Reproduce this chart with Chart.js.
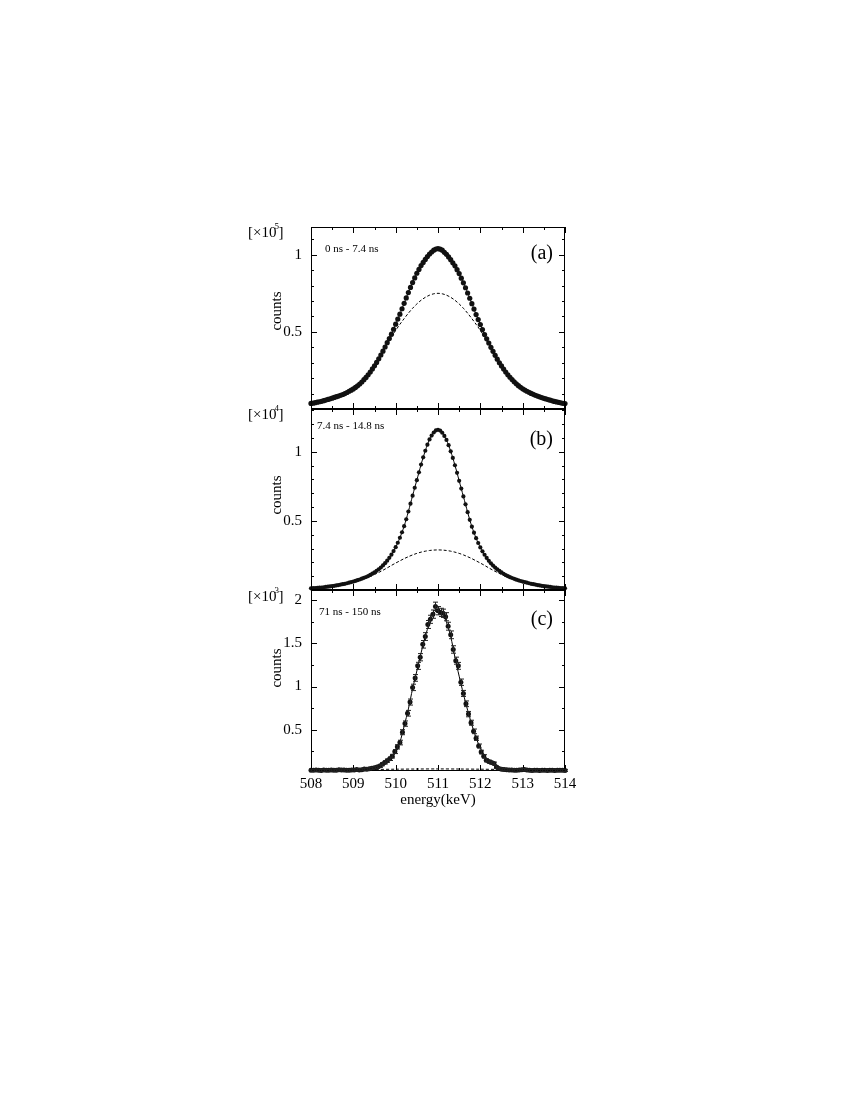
<!DOCTYPE html>
<html>
<head>
<meta charset="utf-8">
<script src="https://cdn.jsdelivr.net/npm/chart.js@4/dist/chart.umd.min.js"></script>
<style>
html,body{margin:0;padding:0;background:#fff;}
#wrap{position:relative;width:850px;height:1100px;overflow:hidden;}
#wrap canvas{position:absolute;left:0;top:0;}
</style>
</head>
<body>
<div id="wrap">
<canvas id="ca" width="850" height="1100"></canvas>
<canvas id="cb" width="850" height="1100"></canvas>
<canvas id="cc" width="850" height="1100"></canvas>
</div>
<script>
// ---------- DATA ----------
// energy grid (keV) of panels (a) and (b)
const energies05 = [
508.00,508.05,508.10,508.15,508.20,508.25,508.30,508.35,508.40,508.45,
508.50,508.55,508.60,508.65,508.70,508.75,508.80,508.85,508.90,508.95,
509.00,509.05,509.10,509.15,509.20,509.25,509.30,509.35,509.40,509.45,
509.50,509.55,509.60,509.65,509.70,509.75,509.80,509.85,509.90,509.95,
510.00,510.05,510.10,510.15,510.20,510.25,510.30,510.35,510.40,510.45,
510.50,510.55,510.60,510.65,510.70,510.75,510.80,510.85,510.90,510.95,
511.00,
511.05,511.10,511.15,511.20,511.25,511.30,511.35,511.40,511.45,511.50,
511.55,511.60,511.65,511.70,511.75,511.80,511.85,511.90,511.95,512.00,
512.05,512.10,512.15,512.20,512.25,512.30,512.35,512.40,512.45,512.50,
512.55,512.60,512.65,512.70,512.75,512.80,512.85,512.90,512.95,513.00,
513.05,513.10,513.15,513.20,513.25,513.30,513.35,513.40,513.45,513.50,
513.55,513.60,513.65,513.70,513.75,513.80,513.85,513.90,513.95,514.00
];
// panel (a) counts [x10^5], 0 ns - 7.4 ns
const countsA = [
0.036,0.038,0.041,0.044,0.047,0.050,0.054,0.058,0.062,0.066,
0.070,0.075,0.080,0.084,0.089,0.094,0.100,0.107,0.115,0.122,
0.130,0.140,0.150,0.162,0.175,0.190,0.205,0.222,0.240,0.260,
0.280,0.302,0.325,0.350,0.375,0.402,0.430,0.457,0.485,0.517,
0.550,0.583,0.615,0.650,0.685,0.720,0.755,0.788,0.820,0.850,
0.880,0.905,0.930,0.950,0.970,0.988,1.005,1.018,1.030,1.037,
1.040,
1.036,1.030,1.016,1.003,0.986,0.968,0.948,0.928,0.903,0.878,
0.848,0.818,0.786,0.752,0.718,0.683,0.648,0.612,0.580,0.548,
0.515,0.483,0.455,0.428,0.400,0.374,0.348,0.323,0.300,0.279,
0.259,0.240,0.222,0.206,0.191,0.176,0.163,0.151,0.141,0.131,
0.123,0.115,0.108,0.101,0.095,0.089,0.084,0.079,0.074,0.069,
0.065,0.061,0.057,0.053,0.049,0.046,0.043,0.040,0.037,0.035
];
// panel (b) counts [x10^4], 7.4 ns - 14.8 ns
const countsB = [
0.012,0.013,0.014,0.015,0.017,0.018,0.020,0.022,0.024,0.026,
0.028,0.030,0.033,0.036,0.039,0.042,0.045,0.049,0.053,0.057,
0.061,0.066,0.071,0.076,0.082,0.088,0.094,0.101,0.109,0.118,
0.128,0.139,0.150,0.163,0.178,0.194,0.212,0.233,0.256,0.282,
0.310,0.342,0.378,0.418,0.462,0.512,0.568,0.625,0.683,0.740,
0.795,0.852,0.908,0.960,1.008,1.052,1.090,1.118,1.140,1.155,
1.160,
1.154,1.138,1.115,1.086,1.048,1.004,0.956,0.903,0.848,0.790,
0.734,0.677,0.620,0.563,0.508,0.458,0.415,0.375,0.340,0.308,
0.280,0.255,0.232,0.211,0.193,0.177,0.162,0.149,0.138,0.127,
0.117,0.108,0.100,0.093,0.087,0.081,0.075,0.070,0.065,0.061,
0.057,0.053,0.049,0.045,0.042,0.039,0.036,0.033,0.030,0.028,
0.026,0.024,0.022,0.020,0.018,0.017,0.015,0.014,0.013,0.012
];
// 0.1 keV grid used by the dashed components and the panel (c) fit
const energyFine = [
508.0,508.1,508.2,508.3,508.4,508.5,508.6,508.7,508.8,508.9,
509.0,509.1,509.2,509.3,509.4,509.5,509.6,509.7,509.8,509.9,
510.0,510.1,510.2,510.3,510.4,510.5,510.6,510.7,510.8,510.9,
511.0,
511.1,511.2,511.3,511.4,511.5,511.6,511.7,511.8,511.9,512.0,
512.1,512.2,512.3,512.4,512.5,512.6,512.7,512.8,512.9,513.0,
513.1,513.2,513.3,513.4,513.5,513.6,513.7,513.8,513.9,514.0
];
// panel (a) broad component (dashed)
const dashedA = [
0.035,0.040,0.046,0.053,0.061,0.069,0.079,0.088,0.099,0.114,
0.129,0.149,0.174,0.204,0.237,0.276,0.320,0.368,0.418,0.466,
0.510,0.549,0.586,0.621,0.653,0.681,0.705,0.724,0.738,0.747,
0.750,
0.747,0.738,0.724,0.705,0.681,0.653,0.621,0.586,0.549,0.510,
0.466,0.418,0.368,0.320,0.276,0.237,0.204,0.174,0.149,0.129,
0.114,0.099,0.088,0.079,0.069,0.061,0.053,0.046,0.040,0.035
];
// panel (b) broad component (dashed)
const dashedB = [
0.011,0.013,0.016,0.019,0.023,0.027,0.032,0.037,0.043,0.050,
0.058,0.066,0.075,0.086,0.098,0.112,0.127,0.143,0.160,0.178,
0.195,0.211,0.227,0.241,0.254,0.265,0.274,0.281,0.286,0.289,
0.290,
0.289,0.286,0.281,0.274,0.265,0.254,0.241,0.227,0.211,0.195,
0.178,0.160,0.143,0.127,0.112,0.098,0.086,0.075,0.066,0.058,
0.050,0.043,0.037,0.032,0.027,0.023,0.019,0.016,0.013,0.011
];
// panel (c) energies (keV)
const energiesC = [
508.00,508.06,508.12,508.18,508.24,508.30,508.36,508.42,508.48,508.54,
508.60,508.66,508.72,508.78,508.84,508.90,508.96,509.02,509.08,509.14,
509.20,509.26,509.32,509.38,509.44,509.50,509.56,509.62,509.68,509.74,
509.80,509.86,509.92,509.98,510.04,510.10,510.16,510.22,510.28,510.34,
510.40,510.46,510.52,510.58,510.64,510.70,510.76,510.82,510.88,510.94,
511.00,511.06,511.12,511.18,511.24,511.30,511.36,511.42,511.48,511.54,
511.60,511.66,511.72,511.78,511.84,511.90,511.96,512.02,512.08,512.14,
512.20,512.26,512.32,512.38,512.44,512.50,512.56,512.62,512.68,512.74,
512.80,512.86,512.92,512.98,513.04,513.10,513.16,513.22,513.28,513.34,
513.40,513.46,513.52,513.58,513.64,513.70,513.76,513.82,513.88,513.94,
514.00
];
// panel (c) counts [x10^3], 71 ns - 150 ns
const countsC = [
0.030,0.028,0.032,0.029,0.027,0.031,0.030,0.028,0.033,0.030,
0.029,0.034,0.031,0.032,0.028,0.030,0.033,0.031,0.036,0.033,
0.035,0.042,0.040,0.046,0.052,0.058,0.065,0.078,0.098,0.120,
0.140,0.162,0.192,0.245,0.300,0.350,0.470,0.570,0.690,0.820,
0.990,1.100,1.240,1.340,1.490,1.580,1.720,1.780,1.840,1.930,
1.880,1.860,1.850,1.810,1.700,1.600,1.430,1.300,1.240,1.050,
0.920,0.800,0.680,0.580,0.480,0.400,0.310,0.240,0.190,0.145,
0.130,0.118,0.108,0.065,0.048,0.040,0.036,0.034,0.031,0.033,
0.030,0.029,0.031,0.035,0.038,0.031,0.028,0.027,0.030,0.029,
0.026,0.028,0.030,0.027,0.029,0.028,0.027,0.030,0.028,0.029,
0.027
];
// panel (c) statistical errors [x10^3]
const errorsC = [
0.012,0.012,0.012,0.012,0.012,0.012,0.012,0.012,0.012,0.012,
0.012,0.012,0.012,0.012,0.012,0.012,0.012,0.012,0.012,0.012,
0.012,0.013,0.013,0.014,0.014,0.015,0.015,0.016,0.017,0.018,
0.019,0.020,0.021,0.023,0.025,0.027,0.029,0.031,0.033,0.035,
0.037,0.039,0.041,0.042,0.044,0.045,0.046,0.047,0.048,0.049,
0.048,0.048,0.048,0.047,0.046,0.045,0.043,0.041,0.040,0.037,
0.035,0.033,0.031,0.029,0.027,0.025,0.023,0.021,0.019,0.017,
0.016,0.015,0.015,0.014,0.013,0.013,0.012,0.012,0.012,0.012,
0.012,0.012,0.012,0.012,0.012,0.012,0.012,0.012,0.012,0.012,
0.012,0.012,0.012,0.012,0.012,0.012,0.012,0.012,0.012,0.012,
0.012
];
// panel (c) total fit (solid)
const fitC = [
0.030,0.030,0.030,0.030,0.030,0.030,0.030,0.030,0.030,0.030,
0.030,0.030,0.030,0.034,0.040,0.048,0.062,0.085,0.118,0.168,
0.245,0.355,0.540,0.740,0.975,1.180,1.390,1.580,1.740,1.850,
1.885,
1.845,1.745,1.580,1.340,1.120,0.915,0.725,0.555,0.405,0.285,
0.195,0.135,0.095,0.068,0.052,0.042,0.037,0.034,0.032,0.030,
0.030,0.030,0.030,0.030,0.030,0.030,0.030,0.030,0.030,0.030
];
// panel (c) broad component (dashed)
const energyHalf = [508.0,508.5,509.0,509.5,510.0,510.5,511.0,511.5,512.0,512.5,513.0,513.5,514.0];
const dashedC = [0.030,0.032,0.035,0.038,0.041,0.043,0.044,0.043,0.041,0.038,0.035,0.032,0.030];

// tick labels
const xTickValues = [508,509,510,511,512,513,514];
const yLabelsA = [0.5, 1];
const yLabelsB = [0.5, 1];
const yLabelsC = [0.5, 1, 1.5, 2];
const timeLabels = ['0 ns - 7.4 ns', '7.4 ns - 14.8 ns', '71 ns - 150 ns'];
const panelLetters = ['(a)', '(b)', '(c)'];
const exponents = ['5', '4', '3'];

// ---------- RENDERING ----------
const SERIF = "'Liberation Serif','Times New Roman',Times,serif";
Chart.defaults.font.family = SERIF;
Chart.defaults.color = '#000';

function pts(xs, ys) { return xs.map((x, i) => ({x: x, y: ys[i]})); }

const framePlugin = {
  id: 'frameTicks',
  afterDatasetsDraw(chart) {
    const o = chart.options.plugins.frameTicks;
    const {ctx, chartArea: a, scales: {x, y}} = chart;
    ctx.save();
    ctx.strokeStyle = '#000';
    ctx.lineWidth = 1;
    ctx.strokeRect(a.left + 0.5, a.top + 0.5, a.right - a.left - 1, a.bottom - a.top - 1);
    ctx.beginPath();
    for (let v = 508; v <= 514.001; v += 0.5) {
      const major = Math.abs(v - Math.round(v)) < 1e-6;
      const len = major ? 6 : 3;
      const px = Math.round(x.getPixelForValue(v)) + 0.5;
      ctx.moveTo(px, a.bottom); ctx.lineTo(px, a.bottom - len);
      ctx.moveTo(px, a.top); ctx.lineTo(px, a.top + len);
    }
    const step = o.minorStep;
    for (let k = 1; k * step < y.max; k++) {
      const v = k * step;
      if (v <= y.min) continue;
      const major = o.labels.some(l => Math.abs(l - v) < 1e-6);
      const len = major ? 6 : 3;
      const py = Math.round(y.getPixelForValue(v)) + 0.5;
      ctx.moveTo(a.left, py); ctx.lineTo(a.left + len, py);
      ctx.moveTo(a.right, py); ctx.lineTo(a.right - len, py);
    }
    ctx.stroke();
    ctx.restore();
  }
};

const textPlugin = {
  id: 'panelText',
  afterDraw(chart) {
    const o = chart.options.plugins.panelText;
    const {ctx, chartArea: a} = chart;
    ctx.save();
    ctx.fillStyle = '#000';
    ctx.textBaseline = 'middle';
    ctx.font = '15px ' + SERIF;
    ctx.textAlign = 'left';
    const x0 = 248, yb = a.top + o.expDy;
    const base = '[\u00d710';
    ctx.fillText(base, x0, yb);
    const w = ctx.measureText(base).width;
    ctx.font = '9px ' + SERIF;
    ctx.fillText(o.exp, x0 + w - 2, yb - 6);
    const ws = ctx.measureText(o.exp).width;
    ctx.font = '15px ' + SERIF;
    ctx.fillText(']', x0 + w - 2 + ws - 0.5, yb);
    ctx.save();
    ctx.translate(277, a.top + o.countsDy);
    ctx.rotate(-Math.PI / 2);
    ctx.textAlign = 'center';
    ctx.font = '15px ' + SERIF;
    ctx.fillText('counts', 0, 0);
    ctx.restore();
    ctx.font = '20px ' + SERIF;
    ctx.textAlign = 'right';
    ctx.fillText(o.letter, 553, a.top + o.letterDy);
    ctx.font = '11px ' + SERIF;
    ctx.textAlign = 'left';
    ctx.fillText(o.time, o.timeX, a.top + o.timeDy);
    ctx.restore();
  }
};

const errorPlugin = {
  id: 'errBars',
  afterDatasetsDraw(chart) {
    const o = chart.options.plugins.errBars;
    if (!o || !o.errors) return;
    const {ctx, scales: {x, y}} = chart;
    ctx.save();
    ctx.strokeStyle = '#222';
    ctx.lineWidth = 1;
    ctx.beginPath();
    o.xs.forEach((xv, i) => {
      const px = Math.round(x.getPixelForValue(xv)) + 0.5;
      const y1 = y.getPixelForValue(o.ys[i] + o.errors[i]);
      const y2 = y.getPixelForValue(o.ys[i] - o.errors[i]);
      ctx.moveTo(px, y1); ctx.lineTo(px, y2);
      ctx.moveTo(px - 2.5, y1); ctx.lineTo(px + 2.5, y1);
      ctx.moveTo(px - 2.5, y2); ctx.lineTo(px + 2.5, y2);
    });
    ctx.stroke();
    ctx.restore();
  }
};

function makePanel(id, p) {
  return new Chart(document.getElementById(id), {
    type: 'scatter',
    data: {datasets: p.datasets},
    plugins: [framePlugin, textPlugin, errorPlugin],
    options: {
      responsive: false,
      animation: false,
      devicePixelRatio: 1,
      events: [],
      layout: {padding: {left: 240, right: 285, top: p.top, bottom: p.bottom}},
      plugins: {
        legend: {display: false},
        tooltip: {enabled: false},
        frameTicks: {minorStep: p.minorStep, labels: p.yLabels},
        panelText: p.text,
        errBars: p.err || {}
      },
      scales: {
        x: {
          type: 'linear', min: 508, max: 514, display: p.showX,
          grid: {display: false, drawTicks: false},
          border: {display: false},
          afterBuildTicks: s => { s.ticks = xTickValues.map(v => ({value: v})); },
          ticks: {padding: 4, font: {size: 15}, color: '#000', maxRotation: 0, callback: v => String(v)},
          title: {display: true, text: 'energy(keV)', font: {size: 15}, color: '#000', padding: {top: 0, bottom: 7}},
          afterFit: s => { if (p.showX) s.height = 45; }
        },
        y: {
          type: 'linear', min: p.ymin, max: p.ymax,
          grid: {display: false, drawTicks: false},
          border: {display: false},
          afterBuildTicks: s => { s.ticks = p.yLabels.map(v => ({value: v})); },
          ticks: {padding: 9, font: {size: 15}, color: '#000', callback: v => String(v)},
          afterFit: s => { s.width = 71; }
        }
      }
    }
  });
}

function dotSet(xs, ys, r) {
  return {data: pts(xs, ys), showLine: false, pointRadius: r, pointBackgroundColor: '#111', pointBorderWidth: 0, clip: false};
}
function lineSet(xs, ys, w) {
  return {data: pts(xs, ys), showLine: true, pointRadius: 0, borderColor: '#000', borderWidth: w, tension: 0.3, clip: false};
}
function dashSet(xs, ys) {
  return {data: pts(xs, ys), showLine: true, pointRadius: 0, borderColor: '#000', borderWidth: 1, borderDash: [3, 2], tension: 0.3, clip: false};
}

makePanel('ca', {
  top: 227, bottom: 691, ymin: 0, ymax: 1.18, minorStep: 0.1, yLabels: yLabelsA, showX: false,
  datasets: [dotSet(energies05, countsA, 2.6), lineSet(energies05, countsA, 1), dashSet(energyFine, dashedA)],
  text: {exp: exponents[0], expDy: 6, countsDy: 84, letter: panelLetters[0], letterDy: 27, time: timeLabels[0], timeX: 325, timeDy: 22}
});
makePanel('cb', {
  top: 409, bottom: 510, ymin: 0, ymax: 1.31, minorStep: 0.1, yLabels: yLabelsB, showX: false,
  datasets: [dotSet(energies05, countsB, 2.1), lineSet(energies05, countsB, 1), dashSet(energyFine, dashedB)],
  text: {exp: exponents[1], expDy: 6, countsDy: 86, letter: panelLetters[1], letterDy: 31, time: timeLabels[1], timeX: 317, timeDy: 17}
});
makePanel('cc', {
  top: 590, bottom: 284, ymin: 0.02, ymax: 2.12, minorStep: 0.25, yLabels: yLabelsC, showX: true,
  datasets: [dotSet(energiesC, countsC, 2.5), lineSet(energyFine, fitC, 1), dashSet(energyHalf, dashedC)],
  text: {exp: exponents[2], expDy: 7, countsDy: 78, letter: panelLetters[2], letterDy: 30, time: timeLabels[2], timeX: 319, timeDy: 22},
  err: {xs: energiesC, ys: countsC, errors: errorsC}
});
</script>
</body>
</html>
